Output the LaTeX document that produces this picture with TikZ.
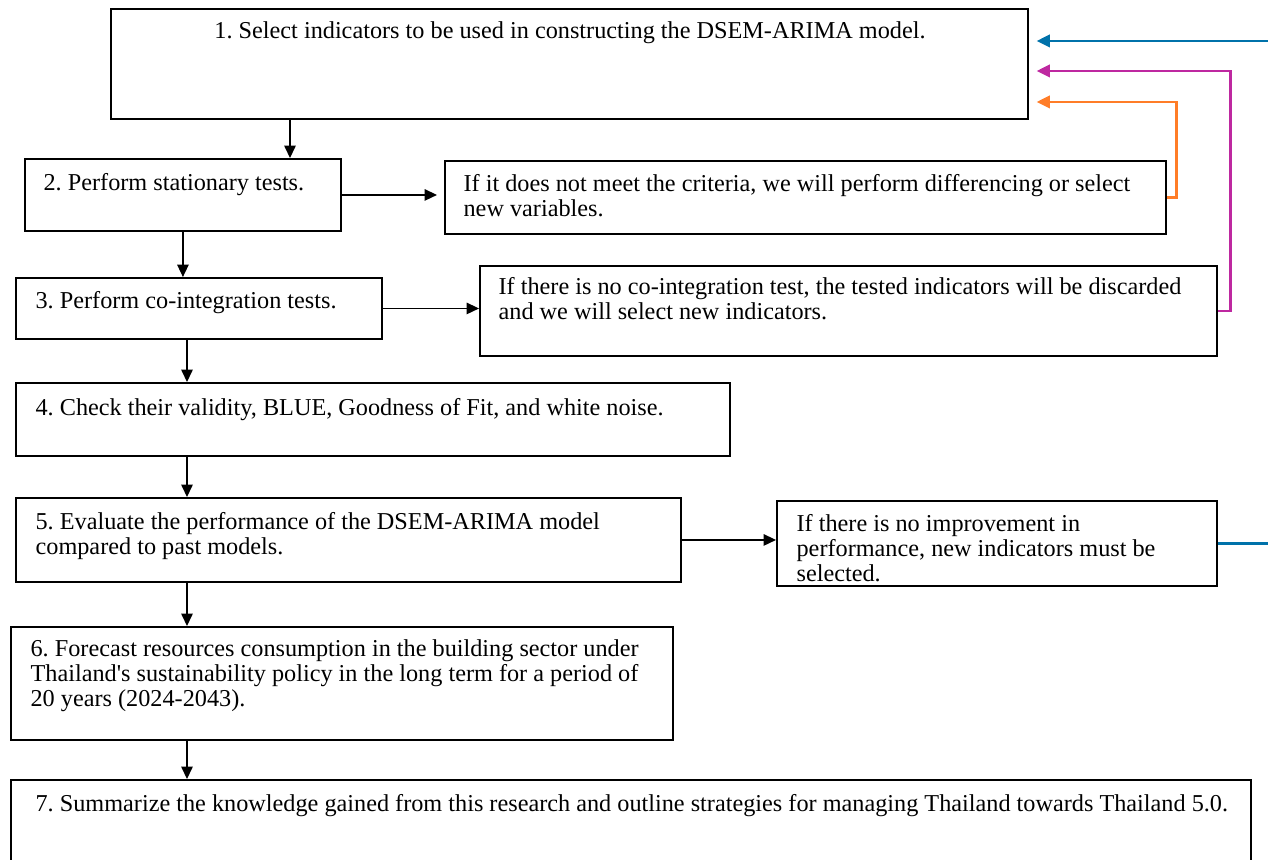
\documentclass[tikz,border=0pt]{standalone}
\usepackage{fontspec}
\setmainfont{Liberation Serif}
\usetikzlibrary{arrows.meta}
\definecolor{fbblue}{RGB}{0,114,170}
\definecolor{fbmagenta}{RGB}{190,40,160}
\definecolor{fborange}{RGB}{255,125,40}
\frenchspacing

\begin{document}
\begin{tikzpicture}[x=0.02cm,y=-0.02cm,->,>={Triangle[length=7pt,width=6.5pt]},line width=0.7pt,
  stepbox/.style={draw,line width=1.1pt,anchor=north west,inner sep=0pt},
  steptext/.style={anchor=north west,inner sep=0pt,align=left,font=\fontsize{13.8}{14.3}\selectfont},
  back line/.style={line width=1.6pt,>={Triangle[length=7.5pt,width=7pt]},shorten >=4.5pt}]
\useasboundingbox (0,0) rectangle (1268,859);

  % steps
  \node[stepbox,minimum width=18.34cm,minimum height=2.2cm] (s1) at (110,8) {};
  \node[stepbox,minimum width=6.32cm,minimum height=1.44cm] (s2) at (24,158) {};
  \node[stepbox,minimum width=7.32cm,minimum height=1.22cm] (s3) at (15,277) {};
  \node[stepbox,minimum width=14.28cm,minimum height=1.46cm] (s4) at (15,382) {};
  \node[stepbox,minimum width=13.3cm,minimum height=1.68cm] (s5) at (15,497) {};
  \node[stepbox,minimum width=13.24cm,minimum height=2.26cm] (s6) at (10,626) {};
  \node[stepbox,minimum width=24.8cm,minimum height=2.2cm] (s7) at (10,779) {};

  % notes
  \node[stepbox,minimum width=14.42cm,minimum height=1.46cm] (n2) at (444,160) {};
  \node[stepbox,minimum width=14.74cm,minimum height=1.8cm] (n3) at (479,265) {};
  \node[stepbox,minimum width=8.8cm,minimum height=1.7cm] (n5) at (776,500) {};

  \node[steptext,anchor=north] (t1) at (570,21) {1. Select indicators to be used in constructing the DSEM-ARIMA model.};
  \node[steptext] (t2) at (43,173) {2. Perform stationary tests.};
  \node[steptext] (t3) at (35,291) {3. Perform co-integration tests.};
  \node[steptext] (t4) at (35,398) {4. Check their validity, BLUE, Goodness of Fit, and white noise.};
  \node[steptext] (t5) at (35,512) {5. Evaluate the performance of the DSEM-ARIMA model\\compared to past models.};
  \node[steptext] (t6) at (30,639) {6. Forecast resources consumption in the building sector under\\Thailand\textquotesingle s sustainability policy in the long term for a period of\\20 years (2024-2043).};
  \node[steptext] (t7) at (35,794) {7. Summarize the knowledge gained from this research and outline strategies for managing Thailand towards Thailand 5.0.};
  \node[steptext] (u2) at (463,174) {If it does not meet the criteria, we will perform differencing or select\\new variables.};
  \node[steptext] (u3) at (498,277) {If there is no co-integration test, the tested indicators will be discarded\\and we will select new indicators.};
  \node[steptext] (u5) at (796,514) {If there is no improvement in\\performance, new indicators must be\\selected.};

  \coordinate (c1) at (290,0);
  \coordinate (c2) at (187,0);

  % main flow
  \draw (s1.south -| c1) -- (s2.north -| c1);
  \draw (s2.south) -- (s2.south |- s3.north);
  \draw (s3.south -| c2) -- (s4.north -| c2);
  \draw (s4.south -| c2) -- (s5.north -| c2);
  \draw (s5.south -| c2) -- (s6.north -| c2);
  \draw (s6.south -| c2) -- (s7.north -| c2);

  \draw[shorten >=4pt] (s2.east) -- (s2.east -| n2.west);
  \draw (s3.east) -- (s3.east -| n3.west);
  \draw (s5.east) -- (s5.east -| n5.west);

  % back to step 1
  \draw[back line,fborange] (n2.east) -- ++(10,0) |- ([yshift=-0.76cm]s1.east);
  \draw[back line,fbmagenta] (n3.east) -- ++(13,0) |- ([yshift=-0.14cm]s1.east);
  \draw[back line,fbblue] (n5.east) -- ++(52,0) |- ([yshift=0.46cm]s1.east);
\end{tikzpicture}
\end{document}
